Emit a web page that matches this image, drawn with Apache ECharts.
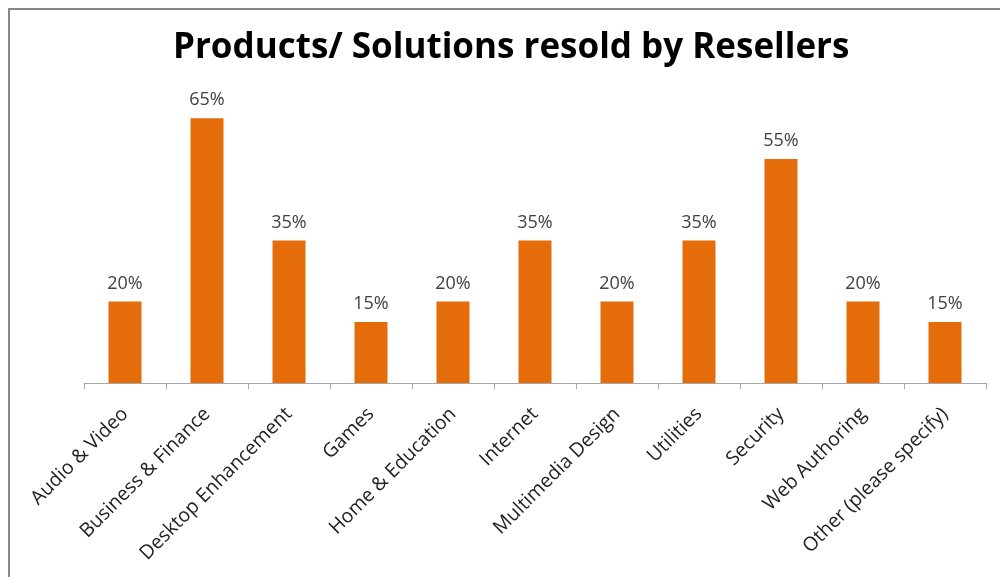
<!DOCTYPE html>
<html>
<head>
<meta charset="utf-8">
<script src="https://cdn.jsdelivr.net/npm/echarts@6/dist/echarts.min.js"></script>
<style>
  html, body { margin: 0; padding: 0; background: #fff; }
  #chart { width: 1000px; height: 577px; }
</style>
</head>
<body>
<div id="chart"></div>
<script>
// categories and values (percent)
var categories = ['Audio & Video', 'Business & Finance', 'Desktop Enhancement', 'Games',
  'Home & Education', 'Internet', 'Multimedia Design', 'Utilities', 'Security',
  'Web Authoring', 'Other (please specify)'];
var values = [20, 65, 35, 15, 20, 35, 20, 35, 55, 20, 15];

var chart = echarts.init(document.getElementById('chart'));
chart.setOption({
  backgroundColor: '#fff',
  animation: false,
  title: {
    text: 'Products/ Solutions resold by Resellers',
    left: 168,
    top: 26,
    textStyle: {
      fontFamily: 'Open Sans',
      fontWeight: 'bold',
      fontSize: 35,
      color: '#000'
    }
  },
  graphic: [{
    type: 'rect',
    shape: { x: 9, y: 9, width: 1100, height: 700 },
    style: { fill: 'none', stroke: '#888', lineWidth: 2 },
    silent: true
  }],
  grid: {
    left: 84,
    right: 14,
    top: 98,
    bottom: 194
  },
  xAxis: {
    type: 'category',
    data: categories,
    axisLine: { lineStyle: { color: '#a6a6a6', width: 1 } },
    axisTick: { show: true, length: 6, lineStyle: { color: '#a6a6a6' } },
    axisLabel: {
      rotate: 45,
      interval: 0,
      margin: 28,
      fontFamily: 'Open Sans',
      fontSize: 19.5,
      color: '#222'
    }
  },
  yAxis: {
    type: 'value',
    min: 0,
    max: 70,
    show: false,
    splitLine: { show: false }
  },
  series: [{
    type: 'bar',
    data: values,
    barWidth: 33,
    itemStyle: { color: '#e46c0a' },
    label: {
      show: true,
      position: 'top',
      distance: 9,
      formatter: '{c}%',
      fontFamily: 'Open Sans',
      fontSize: 18,
      color: '#404040'
    }
  }]
});
</script>
</body>
</html>
